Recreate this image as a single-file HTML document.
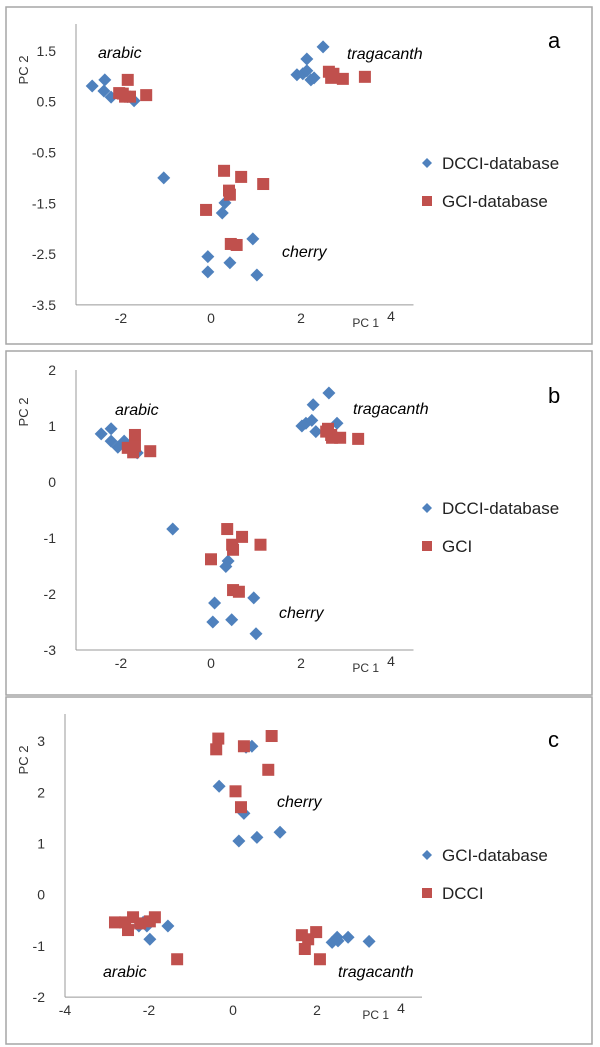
<!DOCTYPE html>
<html><head><meta charset="utf-8"><style>
body{margin:0;background:#fff;}
svg{display:block;font-family:"Liberation Sans",sans-serif;}
</style></head><body>
<svg id="fig" width="600" height="1047" viewBox="0 0 600 1047"></svg>
<script>
// Panel a data
const aDcciX=[-2.64,-2.36,-2.38,-2.22,-1.71,-1.85,-1.05,0.31,0.25,0.93,-0.07,-0.07,0.42,1.02,2.49,2.13,1.91,2.04,2.13,2.22,2.29];
const aDcciY=[0.81,0.93,0.71,0.59,0.52,0.60,-1.00,-1.49,-1.69,-2.20,-2.55,-2.85,-2.67,-2.91,1.58,1.34,1.03,1.05,1.11,0.93,0.97];
const aGciX=[-1.85,-2.04,-1.91,-1.96,-1.80,-1.44,0.29,0.67,1.16,0.40,0.42,-0.11,0.44,0.57,2.62,2.72,2.67,2.93,3.42];
const aGciY=[0.93,0.67,0.60,0.66,0.60,0.63,-0.86,-0.98,-1.12,-1.25,-1.33,-1.63,-2.30,-2.32,1.09,1.05,0.97,0.95,0.99];
// Panel b data
const bDcciX=[-2.44,-2.22,-2.22,-2.07,-1.93,-1.64,-0.85,0.38,0.33,0.95,0.08,0.04,0.46,1.00,2.62,2.27,2.02,2.11,2.24,2.33,2.80];
const bDcciY=[0.86,0.95,0.73,0.62,0.73,0.52,-0.84,-1.41,-1.51,-2.07,-2.16,-2.50,-2.46,-2.71,1.59,1.38,1.00,1.05,1.10,0.90,1.05];
const bGciX=[-1.69,-1.85,-1.73,-1.69,-1.35,0.36,0.69,1.10,0.47,0.49,0.00,0.49,0.62,2.60,2.67,2.69,2.87,3.27,2.56];
const bGciY=[0.84,0.61,0.53,0.64,0.55,-0.84,-0.98,-1.12,-1.12,-1.21,-1.38,-1.93,-1.96,0.95,0.84,0.79,0.79,0.77,0.90];
// Panel c data
const cGciX=[0.31,0.45,-0.33,0.26,0.14,0.57,1.12,-2.14,-2.05,-1.98,-1.55,-2.24,2.36,2.48,2.50,2.74,3.24];
const cGciY=[2.88,2.90,2.12,1.59,1.05,1.12,1.22,-0.54,-0.61,-0.87,-0.61,-0.61,-0.93,-0.83,-0.90,-0.83,-0.91];
const cDcciX=[-0.35,-0.40,0.26,0.92,0.84,0.06,0.19,-2.81,-2.57,-2.38,-2.50,-2.21,-1.86,-1.98,-1.33,1.64,1.79,1.98,1.71,2.07];
const cDcciY=[3.05,2.84,2.90,3.10,2.44,2.02,1.71,-0.54,-0.54,-0.44,-0.69,-0.56,-0.44,-0.52,-1.26,-0.79,-0.87,-0.73,-1.06,-1.26];
// Tick labels
const aYTicks=[1.5,0.5,-0.5,-1.5,-2.5,-3.5];
const bYTicks=[2,1,0,-1,-2,-3];
const cYTicks=[3,2,1,0,-1,-2];
const abXTicks=[-2,0,2];
const cXTicks=[-4,-2,0,2];

const NS="http://www.w3.org/2000/svg";
const svg=document.getElementById('fig');
function el(tag,attrs,parent,text){const e=document.createElementNS(NS,tag);for(const k in attrs)e.setAttribute(k,attrs[k]);if(text!==undefined)e.textContent=text;(parent||svg).appendChild(e);return e;}
const BLUE="#4f81bd",RED="#c0504d";

function panel(cfg){
  const g=el('g',{});
  
  
  const fr=el('rect',{x:6,y:cfg.box[0],width:586,height:cfg.box[1]-cfg.box[0],fill:'none',stroke:'#a6a6a6','stroke-width':1.5},g);
  
  
  const sx=v=>cfg.x0+(v-cfg.xmin)*cfg.xs;
  const sy=v=>cfg.yTop+(cfg.ymax-v)*cfg.ys;
  const yb=sy(cfg.ymin);
  const ya=el('line',{x1:sx(cfg.xmin),y1:sy(cfg.ymax),x2:sx(cfg.xmin),y2:yb,stroke:'#999','stroke-width':1},g);
  
  
  const xa=el('line',{x1:sx(cfg.xmin),y1:yb,x2:sx(cfg.xmax),y2:yb,stroke:'#999','stroke-width':1},g);
  
  
  cfg.yTicks.forEach(t=>{
    const e=el('text',{x:cfg.x0-20,y:sy(t)+5,'text-anchor':'end','font-size':14,fill:'#333'},g,String(t));
    
    
  });
  cfg.xTicks.forEach(t=>{
    const e=el('text',{x:sx(t),y:yb+18,'text-anchor':'middle','font-size':14,fill:'#333'},g,String(t));
    
    
  });
  const f=el('text',{x:sx(4),y:yb+16,'text-anchor':'middle','font-size':14,fill:'#333'},g,'4');
  
  
  const px=el('text',{x:sx(4)-12,y:yb+22,'text-anchor':'end','font-size':12,fill:'#333'},g,'PC 1');
  
  
  const py=el('text',{x:0,y:0,'text-anchor':'middle','font-size':13,fill:'#333',transform:`translate(28,${cfg.pc2y}) rotate(-90)`},g,'PC 2');
  
  
  cfg.labels.forEach(l=>{
    const e=el('text',{x:l[1],y:l[2],'font-size':16,'font-style':'italic',fill:'#000'},g,l[0]);
    
    
  });
  const lt=el('text',{x:548,y:cfg.letterY,'font-size':22,fill:'#000'},g,cfg.letter);
  
  
  // series
  cfg.series.forEach(s=>{
    s.xs.forEach((v,i)=>{
      const cx=sx(v),cy=sy(s.ys[i]);let m;
      if(s.shape==='d'){m=el('polygon',{points:`${cx},${cy-6.5} ${cx+6.5},${cy} ${cx},${cy+6.5} ${cx-6.5},${cy}`,fill:BLUE},g);}
      else{m=el('rect',{x:cx-6,y:cy-6,width:12,height:12,fill:RED},g);}
      
      
    });
  });
  // legend
  cfg.series.forEach((s,k)=>{
    const ly=cfg.legY+k*38;let m;
    if(s.shape==='d'){m=el('polygon',{points:`427,${ly-5} 432,${ly} 427,${ly+5} 422,${ly}`,fill:BLUE},g);}
    else{m=el('rect',{x:422,y:ly-5,width:10,height:10,fill:RED},g);}
    
    
    const t=el('text',{x:442,y:ly+6,'font-size':17,fill:'#222'},g,s.label);
    
    
  });
}

panel({letter:'a',box:[7,344],x0:76,xmin:-3,xmax:4.5,xs:45,yTop:24,ymax:2.03,ymin:-3.5,ys:50.8,
  yTicks:aYTicks,xTicks:abXTicks,pc2y:70,letterY:48,legY:163,
  labels:[['arabic',98,58],['tragacanth',347,59],['cherry',282,257]],
  series:[{name:'dcci',label:'DCCI-database',shape:'d',xs:aDcciX,ys:aDcciY},{name:'gci',label:'GCI-database',shape:'s',xs:aGciX,ys:aGciY}]});
panel({letter:'b',box:[351,695],x0:76,xmin:-3,xmax:4.5,xs:45,yTop:370,ymax:2,ymin:-3,ys:56,
  yTicks:bYTicks,xTicks:abXTicks,pc2y:412,letterY:403,legY:508,
  labels:[['arabic',115,415],['tragacanth',353,414],['cherry',279,618]],
  series:[{name:'dcci',label:'DCCI-database',shape:'d',xs:bDcciX,ys:bDcciY},{name:'gci',label:'GCI',shape:'s',xs:bGciX,ys:bGciY}]});
panel({letter:'c',box:[697,1044],x0:65,xmin:-4,xmax:4.5,xs:42,yTop:714,ymax:3.53,ymin:-2,ys:51.2,
  yTicks:cYTicks,xTicks:cXTicks,pc2y:760,letterY:747,legY:855,
  labels:[['cherry',277,807],['arabic',103,977],['tragacanth',338,977]],
  series:[{name:'gci',label:'GCI-database',shape:'d',xs:cGciX,ys:cGciY},{name:'dcci',label:'DCCI',shape:'s',xs:cDcciX,ys:cDcciY}]});
</script>
</body></html>
